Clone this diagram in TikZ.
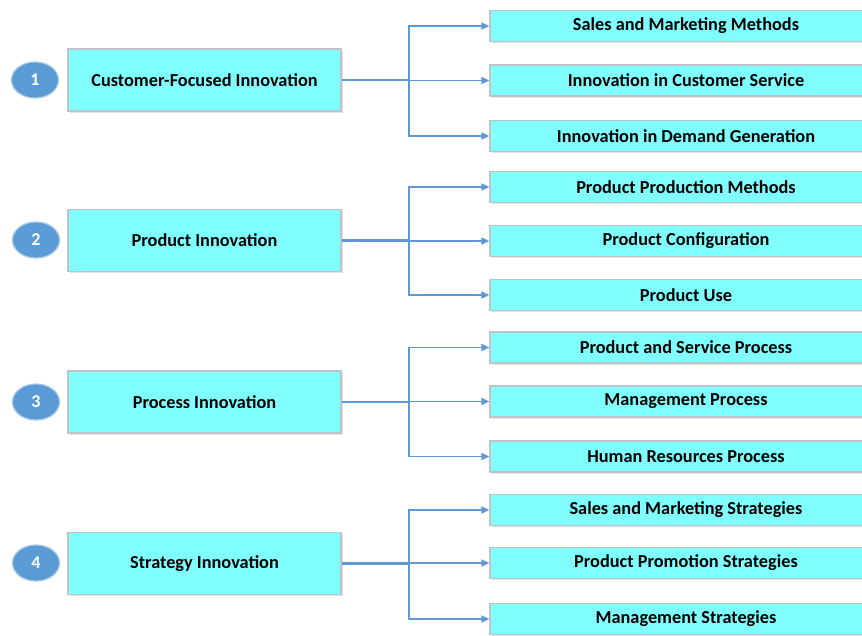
\documentclass[tikz,border=0pt]{standalone}
\usepackage{fontspec}
\setmainfont{Carlito}
\usetikzlibrary{arrows.meta,shadows,shapes.geometric}
\definecolor{boxfill}{HTML}{80FFFF}
\definecolor{boxedge}{HTML}{BFC4C8}
\definecolor{linkblue}{HTML}{5F98D3}
\definecolor{badge}{HTML}{5B9BD5}

\begin{document}
\begin{tikzpicture}[x=1pt,y=-1pt,
  mainbox/.style={draw=boxedge, line width=1.3pt, fill=boxfill,
    minimum width=273pt, minimum height=62pt, inner sep=0pt,
    font=\bfseries\fontsize{18.3}{21}\selectfont,
    drop shadow={shadow xshift=1.8pt, shadow yshift=-1.8pt, opacity=0.22}},
  subbox/.style={draw=boxedge, line width=1.3pt, fill=boxfill,
    minimum width=392pt, minimum height=31pt, inner sep=0pt,
    font=\bfseries\fontsize{18.3}{21}\selectfont,
    drop shadow={shadow xshift=1.8pt, shadow yshift=-1.8pt, opacity=0.22}},
  badgenode/.style={ellipse, fill=badge, draw=badge!55, line width=1.2pt,
    minimum width=47pt, minimum height=36pt, inner sep=0pt,
    text=white, font=\bfseries\fontsize{18}{20}\selectfont},
  trunk/.style={draw=linkblue, line width=2.2pt},
  branch/.style={draw=linkblue, line width=1.8pt,
    -{Triangle[length=8pt,width=7pt]}}
]
\useasboundingbox (0,0) rectangle (862,635);
\clip (0,0) rectangle (862,635);
\fill[white] (0,0) rectangle (862,635);

% numbered badges
\node[badgenode] (c1) at (35,80)    {1};
\node[badgenode] (c2) at (36,240)   {2};
\node[badgenode] (c3) at (36,402)   {3};
\node[badgenode] (c4) at (36,563)   {4};

% innovation categories
\node[mainbox] (m1) at (204.5,80)    {Customer-Focused Innovation};
\node[mainbox] (m2) at (204.5,240.5) {Product Innovation};
\node[mainbox] (m3) at (204.5,402)   {Process Innovation};
\node[mainbox] (m4) at (204.5,563.5) {Strategy Innovation};

% sub-areas
\node[subbox] (s11) at (686,26)    {Sales and Marketing Methods};
\node[subbox] (s12) at (686,80.5)  {Innovation in Customer Service};
\node[subbox] (s13) at (686,136)   {Innovation in Demand Generation};
\node[subbox] (s21) at (686,187)   {Product Production Methods};
\node[subbox] (s22) at (686,241)   {Product Configuration};
\node[subbox] (s23) at (686,295)   {Product Use};
\node[subbox] (s31) at (686,347.5) {Product and Service Process};
\node[subbox] (s32) at (686,401.5) {Management Process};
\node[subbox] (s33) at (686,456.5) {Human Resources Process};
\node[subbox] (s41) at (686,510)   {Sales and Marketing Strategies};
\node[subbox] (s42) at (686,563)   {Product Promotion Strategies};
\node[subbox] (s43) at (686,619)   {Management Strategies};

% junction points of each fan-out
\coordinate (j1) at (409,80);
\coordinate (j2) at (409,240.5);
\coordinate (j3) at (409,402);
\coordinate (j4) at (409,563.5);

\foreach \g in {1,2,3,4}{
  \draw[trunk] (m\g.east) -- (j\g);
  \foreach \k in {1,2,3}{
    \draw[branch] (j\g) |- (s\g\k.west);
  }
}
\end{tikzpicture}
\end{document}
